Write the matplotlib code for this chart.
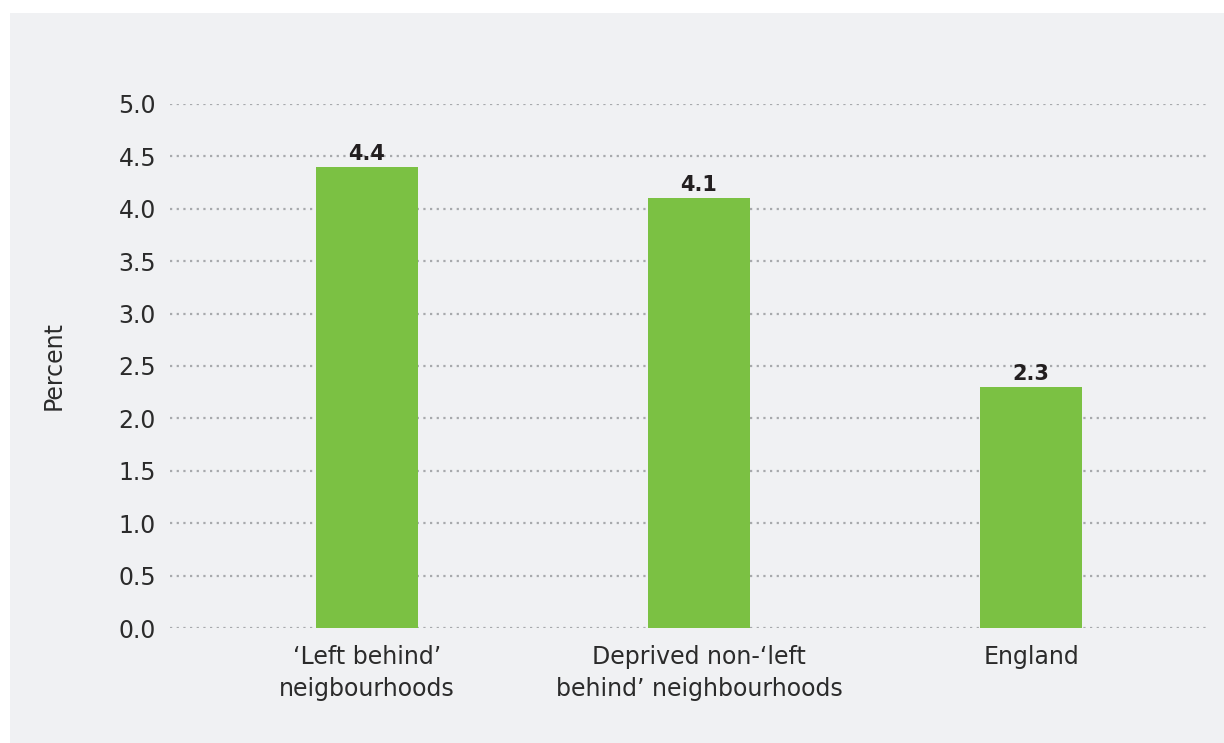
import matplotlib.pyplot as plt
from matplotlib.patches import Rectangle

categories = ["\u2018Left behind\u2019\nneigbourhoods",
              "Deprived non-\u2018left\nbehind\u2019 neighbourhoods",
              "England"]
values = [4.4, 4.1, 2.3]
labels = ["4.4", "4.1", "2.3"]
yticks = [0.0, 0.5, 1.0, 1.5, 2.0, 2.5, 3.0, 3.5, 4.0, 4.5, 5.0]

W, H = 1224, 743
fig = plt.figure(figsize=(W / 100, H / 100), dpi=100)
fig.patch.set_facecolor("white")
bg = "#f0f1f3"
fig.patches.append(Rectangle((10 / W, 0), 1 - 10 / W, 1 - 13 / H,
                             transform=fig.transFigure, facecolor=bg,
                             edgecolor="none", zorder=-10))

ax = fig.add_axes([170 / W, 1 - 628 / H, (1210 - 170) / W, (628 - 104) / H])
ax.set_facecolor("none")

x = range(len(values))
ax.bar(x, values, width=0.307, color="#7bc143", zorder=3)
for xi, v, lab in zip(x, values, labels):
    ax.text(xi, v + 0.03, lab, ha="center", va="bottom", fontsize=15,
            fontweight="heavy", color="#231f20", family="DejaVu Sans", zorder=4)

ax.set_ylim(0, 5.0)
ax.set_xlim(-0.593, 2.539)
ax.set_yticks(yticks)
ax.set_yticklabels([f"{t:.1f}" for t in yticks])
ax.yaxis.grid(True, linestyle=(0, (1, 2.0)), color="#a7a9ac", linewidth=1.6)
ax.set_axisbelow(True)
ax.set_xticks(list(x))
ax.set_xticklabels(categories, linespacing=1.45)
for s in ax.spines.values():
    s.set_visible(False)
ax.tick_params(axis="both", length=0, labelsize=17, colors="#2b2b2b")
ax.tick_params(axis="y", pad=10)
ax.tick_params(axis="x", pad=12)
ax.set_ylabel("Percent", fontsize=17, color="#2b2b2b", labelpad=38)

fig.savefig("out.png", dpi=100, facecolor=fig.get_facecolor())
